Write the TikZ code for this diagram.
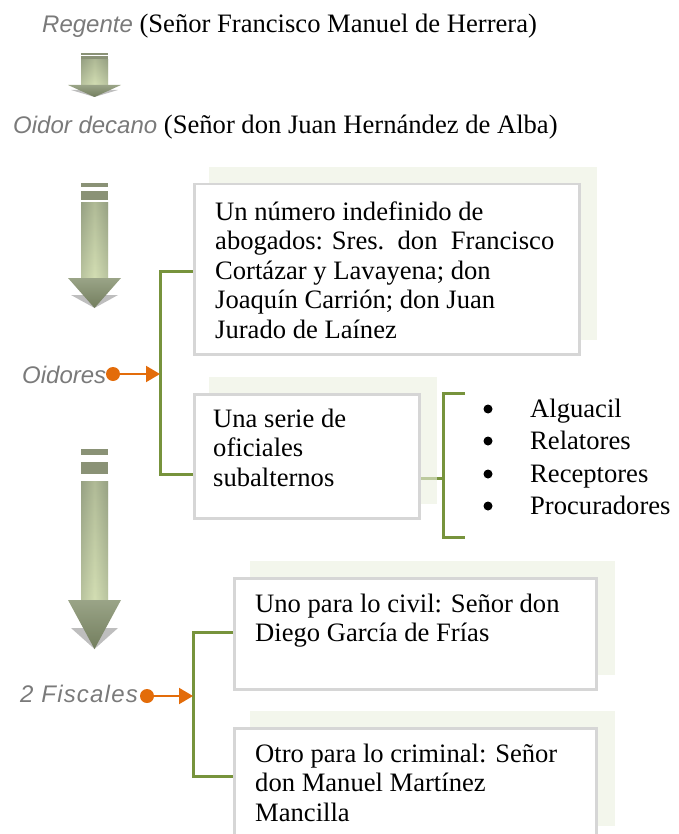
\documentclass[tikz,border=0pt]{standalone}
\usepackage{fontspec}
\setmainfont{Liberation Serif}
\newfontfamily\lblfamily{Liberation Sans}
\usetikzlibrary{arrows.meta,calc}
\definecolor{lblgray}{HTML}{7A7A7A}
\definecolor{boxgray}{HTML}{D6D6D6}
\definecolor{bgtint}{RGB}{235,240,223}
\definecolor{brgreen}{HTML}{77933C}
\definecolor{dotorange}{HTML}{E36C0A}
\definecolor{barcol}{HTML}{8A9276}
\definecolor{shafttop}{HTML}{949E80}
\definecolor{shaftbot}{HTML}{D3DEB3}
\definecolor{shaftedge}{HTML}{9AA487}
\definecolor{headtop}{HTML}{9AA487}
\definecolor{headbot}{HTML}{737E5E}
\definecolor{shadowgray}{HTML}{BEBEBE}
\newcommand{\bodysize}{\fontsize{26.6pt}{29.5pt}\selectfont}
\newcommand{\lblsize}{\fontsize{24pt}{28pt}\selectfont}
\newcommand{\glabel}[1]{{\lblfamily\itshape\lblsize\color{lblgray}#1}}
\newcommand{\olivearrow}[8]{%
  \fill[barcol] (81,#1) rectangle (108,#2);
  \fill[barcol] (81,#3) rectangle (108,#4);
  \shade[top color=shafttop, bottom color=shaftbot] (81,#5) rectangle (108,#6);
  \shade[left color=shaftedge, right color=shaftedge, middle color=shaftbot, opacity=0.45] (81,#5) rectangle (108,#6);
  \fill[shadowgray] (71,#8) -- (118,#8) -- (94.5,#7) -- cycle;
  \shade[top color=headtop, bottom color=headbot] (68,#6) -- (121,#6) -- (94.5,#7) -- cycle;
}
\pgfdeclarelayer{lines}
\pgfdeclarelayer{shade}
\pgfsetlayers{lines,shade,main}
\tikzset{
  box/.style={draw=boxgray, line width=2.5pt, fill=white, anchor=north west, inner sep=0pt},
  boxtext/.style={anchor=base west, inner sep=0pt, font=\bodysize},
  headline/.style={anchor=base west, inner sep=0pt, font=\bodysize},
  glbl/.style={anchor=base west, inner sep=0pt},
  bgpanel/.style={fill=bgtint, fill opacity=0.6},
  bracket/.style={draw=brgreen, line width=3pt},
  orangedot/.style={circle, fill=dotorange, inner sep=0pt, minimum size=14pt},
  bulletdot/.style={circle, fill=black, inner sep=0pt, minimum size=9pt},
  orangearrow/.style={draw=dotorange, line width=2pt, -{Triangle[length=14pt,width=16pt]}},
  itemtext/.style={anchor=base west, inner sep=0pt, font=\bodysize}
}
\begin{document}
\begin{tikzpicture}[x=1pt,y=-1pt]
\useasboundingbox (0,0) rectangle (678,834);

% headings
\node[headline] (regente) at (42,33) {\glabel{Regente} (Señor Francisco Manuel de Herrera)};
\node[headline] (decano) at (13,134) {\glabel{Oidor decano} (Señor don Juan Hernández de Alba)};

% arrows
\olivearrow{53}{55}{56.5}{60}{60}{85}{97}{90}
\olivearrow{183}{187}{191.5}{200}{203}{278}{308}{295}
\olivearrow{449}{455}{461.5}{474}{481}{600}{649}{628}

% boxes
\node[box, minimum width=385pt, minimum height=170pt] (b1) at (193,183) {};
\node[box, minimum width=225pt, minimum height=124pt] (b2) at (193,393) {};
\node[box, minimum width=362pt, minimum height=111pt] (b3) at (233,577) {};
\node[box, minimum width=362pt, minimum height=112pt] (b4) at (233,727) {};

\begin{pgfonlayer}{shade}
  \fill[bgpanel] ($(b1.north west)+(16,-16)$) rectangle ($(b1.south east)+(16,-16)$);
  \fill[bgpanel] ($(b2.north west)+(16,-16)$) rectangle ($(b2.south east)+(16,-16)$);
  \fill[bgpanel] ($(b3.north west)+(17,-16)$) rectangle ($(b3.south east)+(17,-16)$);
  \fill[bgpanel] ($(b4.north west)+(17,-16)$) rectangle ($(b4.south east)+(17,-16)$);
\end{pgfonlayer}

% box texts
\node[boxtext] (t1) at (215,220) {\parbox[t]{370pt}{\raggedright Un número indefinido de\\abogados: Sres.\ \ don\ \ Francisco\\Cortázar y Lavayena; don\\Joaquín Carrión; don Juan\\Jurado de Laínez}};
\node[boxtext] (t2) at (213,427) {\parbox[t]{200pt}{\raggedright Una serie de\\oficiales\\subalternos}};
\node[boxtext] (t3) at (255,612) {\parbox[t]{340pt}{\raggedright Uno para lo civil: Señor don\\Diego García de Frías}};
\node[boxtext] (t4) at (255,762) {\parbox[t]{340pt}{\raggedright Otro para lo criminal: Señor\\don Manuel Martínez\\Mancilla}};

% list items
\node[bulletdot] (u1) at (488,409) {};
\node[bulletdot] (u2) at (488,441) {};
\node[bulletdot] (u3) at (488,474) {};
\node[bulletdot] (u4) at (488,506) {};
\node[itemtext] (i1) at (530,417) {Alguacil};
\node[itemtext] (i2) at (530,449) {Relatores};
\node[itemtext] (i3) at (530,482) {Receptores};
\node[itemtext] (i4) at (530,514) {Procuradores};

% labels with dots
\node[glbl] (oidores) at (22,383) {\glabel{Oidores}};
\node[glbl] (fiscales) at (20,702) {\glabel{\addfontfeature{LetterSpace=5}2 Fiscales}};
\node[orangedot] (d2) at (147,696) {};
\node[orangedot] (d1) at (113,374) {};

% connector coordinates
\coordinate (j1) at (160,374);
\coordinate (c1a) at (193,271);
\coordinate (c1b) at (160,271);
\coordinate (c1c) at (160,474);
\coordinate (c1d) at (193,474);
\coordinate (e2) at (418,478);
\coordinate (k2) at (443,478);
\coordinate (k2t) at (443,393);
\coordinate (k2b) at (443,537);
\coordinate (k2tt) at (465,393);
\coordinate (k2bb) at (465,537);
\coordinate (j2) at (193,696);
\coordinate (c3a) at (233,632);
\coordinate (c3b) at (193,632);
\coordinate (c3c) at (193,776);
\coordinate (c3d) at (233,776);

\begin{pgfonlayer}{lines}
  \draw[bracket] (c1a) -- (c1b) -- (c1c) -- (c1d);
  \draw[bracket] (e2) -- (k2);
  \draw[bracket] (k2tt) -- (k2t) -- (k2b) -- (k2bb);
  \draw[bracket] (c3a) -- (c3b) -- (c3c) -- (c3d);
\end{pgfonlayer}
\draw[orangearrow] (d1.center) -- (j1);
\draw[orangearrow] (d2.center) -- (j2);
\end{tikzpicture}
\end{document}
